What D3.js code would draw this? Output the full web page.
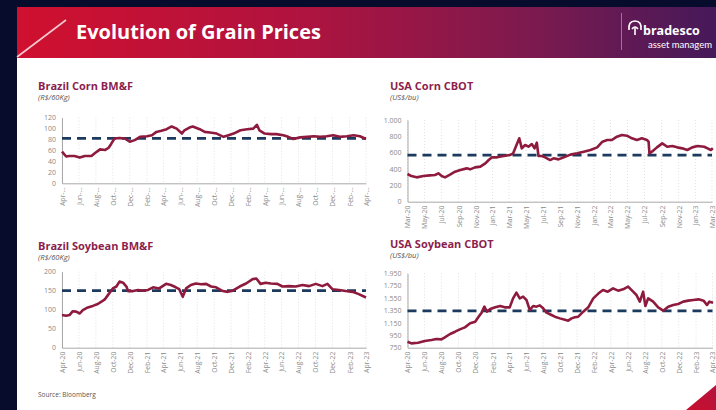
<!DOCTYPE html>
<html><head><meta charset="utf-8">
<script src="https://cdn.jsdelivr.net/npm/d3@7"></script>
<style>
html,body{margin:0;padding:0;background:#070b2c;}
svg{display:block;font-family:"Open Sans",Lato,sans-serif;}
</style></head>
<body>
<svg id="chart" width="716" height="410"></svg>
<script>
// ---------------- DATA ----------------
const brCornDates = ["2020-04-01","2020-04-16","2020-04-28","2020-05-16","2020-06-04","2020-06-22","2020-07-16","2020-07-28","2020-08-16","2020-09-04","2020-09-16","2020-09-25","2020-10-07","2020-10-25","2020-11-13","2020-12-01","2020-12-19","2021-01-07","2021-02-01","2021-02-19","2021-03-07","2021-03-25","2021-04-13","2021-05-01","2021-05-19","2021-06-07","2021-06-16","2021-07-04","2021-07-16","2021-08-10","2021-08-28","2021-09-16","2021-10-10","2021-11-04","2021-11-22","2021-12-10","2022-01-04","2022-01-28","2022-02-19","2022-03-04","2022-03-13","2022-04-01","2022-04-25","2022-05-13","2022-06-07","2022-06-25","2022-07-13","2022-08-07","2022-09-01","2022-09-25","2022-10-19","2022-11-10","2022-12-04","2022-12-28","2023-01-22","2023-02-16","2023-03-10","2023-04-01"];
const brCornValues = [58,49,50,50,47,50,50,55,62,61,65,72,82,83,82,76,79,85,86,88,94,96,99,104,100,91,97,102,104,99,94,93,91,85,88,91,97,99,100,107,97,91,90,90,88,85,81,84,85,86,85,86,88,85,86,88,86,81];
const brCornAvg = 82;
const brCornTickLabels = ["Apr-…","Jun-…","Aug-…","Oct-…","Dec-…","Feb-…","Apr-…","Jun-…","Aug-…","Oct-…","Dec-…","Feb-…","Apr-…","Jun-…","Aug-…","Oct-…","Dec-…","Feb-…","Apr-…"];
const brCornYTicks = [0,20,40,60,80,100,120];

const usCornDates = ["2020-03-01","2020-03-15","2020-04-03","2020-04-27","2020-05-20","2020-06-08","2020-06-20","2020-07-02","2020-07-14","2020-08-01","2020-08-19","2020-09-07","2020-09-30","2020-10-12","2020-10-30","2020-11-18","2020-12-06","2020-12-18","2020-12-30","2021-01-17","2021-02-10","2021-03-04","2021-03-16","2021-03-28","2021-04-07","2021-04-16","2021-04-28","2021-05-10","2021-05-22","2021-06-01","2021-06-09","2021-06-15","2021-06-27","2021-07-09","2021-07-27","2021-08-08","2021-08-26","2021-09-14","2021-10-08","2021-11-01","2021-11-25","2021-12-19","2022-01-12","2022-01-31","2022-02-17","2022-03-06","2022-03-24","2022-04-11","2022-04-29","2022-05-17","2022-06-04","2022-06-22","2022-07-10","2022-07-16","2022-07-19","2022-07-28","2022-08-15","2022-09-03","2022-09-21","2022-10-09","2022-10-27","2022-11-14","2022-12-02","2022-12-20","2023-01-08","2023-02-01","2023-02-13","2023-02-25","2023-03-04"];
const usCornValues = [339,314,298,314,322,327,347,314,298,331,367,388,408,396,420,429,469,510,543,543,559,571,592,694,776,653,694,673,706,653,722,559,559,543,510,531,518,543,576,592,612,633,665,735,755,755,796,816,808,776,755,776,755,735,592,612,665,714,673,682,665,653,633,665,682,673,653,633,653];
const usCornAvg = 570;
const usCornTickLabels = ["Mar-20","May-20","Jul-20","Sep-20","Nov-20","Jan-21","Mar-21","May-21","Jul-21","Sep-21","Nov-21","Jan-22","Mar-22","May-22","Jul-22","Sep-22","Nov-22","Jan-23","Mar-23"];
const usCornYTicks = [0,200,400,600,800,1000];

const brSoyDates = ["2020-04-01","2020-04-16","2020-04-28","2020-05-10","2020-05-22","2020-06-04","2020-06-15","2020-07-03","2020-07-21","2020-08-08","2020-08-21","2020-09-02","2020-09-14","2020-10-01","2020-10-14","2020-10-25","2020-11-07","2020-11-19","2020-11-25","2020-12-13","2020-12-31","2021-01-18","2021-02-05","2021-02-23","2021-03-17","2021-04-11","2021-04-28","2021-05-16","2021-05-28","2021-06-10","2021-06-22","2021-07-09","2021-07-27","2021-08-15","2021-09-02","2021-09-20","2021-10-08","2021-11-01","2021-11-19","2021-12-07","2022-01-01","2022-01-24","2022-02-18","2022-03-02","2022-03-17","2022-04-05","2022-04-23","2022-05-17","2022-06-04","2022-06-28","2022-07-22","2022-08-15","2022-09-08","2022-10-02","2022-10-26","2022-11-13","2022-12-01","2022-12-25","2023-01-18","2023-02-12","2023-03-06","2023-04-01"];
const brSoyValues = [86,84,86,96,95,90,99,106,110,115,121,127,139,156,161,174,171,161,149,149,152,150,152,159,156,168,165,159,154,134,156,165,169,167,168,161,159,149,147,150,161,169,181,182,168,171,169,168,161,162,161,165,162,168,162,168,154,152,149,147,141,132];
const brSoyAvg = 150;
const brSoyTickLabels = ["Apr-20","Jun-20","Aug-20","Oct-20","Dec-20","Feb-21","Apr-21","Jun-21","Aug-21","Oct-21","Dec-21","Feb-22","Apr-22","Jun-22","Aug-22","Oct-22","Dec-22","Feb-23","Apr-23"];
const brSoyYTicks = [0,50,100,150,200];

const usSoyDates = ["2020-04-01","2020-04-15","2020-05-09","2020-06-02","2020-06-26","2020-07-14","2020-08-01","2020-08-13","2020-09-01","2020-09-19","2020-10-06","2020-10-24","2020-11-12","2020-11-30","2020-12-11","2020-12-23","2021-01-02","2021-01-11","2021-01-23","2021-02-10","2021-02-28","2021-03-16","2021-04-03","2021-04-15","2021-04-27","2021-05-09","2021-05-21","2021-06-02","2021-06-14","2021-06-26","2021-07-08","2021-07-20","2021-08-01","2021-08-13","2021-08-31","2021-09-12","2021-09-30","2021-10-12","2021-10-30","2021-11-11","2021-11-23","2021-12-05","2021-12-23","2022-01-10","2022-01-28","2022-02-16","2022-03-04","2022-03-21","2022-04-09","2022-04-27","2022-05-15","2022-06-02","2022-06-20","2022-07-02","2022-07-14","2022-07-26","2022-08-03","2022-08-13","2022-08-31","2022-09-18","2022-10-06","2022-10-24","2022-11-11","2022-11-29","2022-12-17","2023-01-04","2023-01-22","2023-02-10","2023-02-28","2023-03-12","2023-03-21","2023-04-03"];
const usSoyValues = [847,820,831,858,874,890,885,917,971,1008,1046,1078,1143,1170,1240,1315,1412,1331,1374,1401,1423,1401,1401,1546,1638,1546,1573,1520,1358,1423,1412,1433,1385,1315,1277,1250,1223,1207,1186,1223,1240,1250,1331,1401,1546,1627,1681,1654,1708,1670,1692,1735,1654,1600,1493,1654,1423,1546,1493,1401,1347,1412,1439,1455,1493,1509,1520,1530,1509,1439,1493,1476];
const usSoyAvg = 1345;
const usSoyTickLabels = ["Apr-20","Jun-20","Aug-20","Oct-20","Dec-20","Feb-21","Apr-21","Jun-21","Aug-21","Oct-21","Dec-21","Feb-22","Apr-22","Jun-22","Aug-22","Oct-22","Dec-22","Feb-23","Apr-23"];
const usSoyYTicks = [750,950,1150,1350,1550,1750,1950];

const headerTitle = "Evolution of Grain Prices";
const sourceText = "Source: Bloomberg";

// ---------------- DRAW ----------------
const svg = d3.select("#chart");
const parse = d3.timeParse("%Y-%m-%d");
const fmtDot = v => d3.format(",")(v).replace(/,/g, ".");

// panel
svg.append("rect").attr("x",17).attr("y",7).attr("width",699).attr("height",403).attr("fill","#ffffff");
const defs = svg.append("defs");
const grad = defs.append("linearGradient").attr("id","hdr").attr("x1","0").attr("x2","1").attr("y1","0").attr("y2","0");
grad.append("stop").attr("offset","0%").attr("stop-color","#d0102f");
grad.append("stop").attr("offset","40%").attr("stop-color","#b0133f");
grad.append("stop").attr("offset","75%").attr("stop-color","#7a1a4f");
grad.append("stop").attr("offset","100%").attr("stop-color","#45195a");
svg.append("rect").attr("x",17).attr("y",7).attr("width",699).attr("height",51).attr("fill","url(#hdr)");
svg.append("line").attr("x1",17).attr("y1",57).attr("x2",66).attr("y2",20)
  .attr("stroke","#f3c9cf").attr("stroke-width",1.6);
svg.append("text").attr("x",76).attr("y",39).attr("fill","#fff")
  .attr("font-size",20).attr("font-weight",700).text(headerTitle);
svg.append("line").attr("x1",621.5).attr("x2",621.5).attr("y1",13).attr("y2",50)
  .attr("stroke","#b08aa6").attr("stroke-width",0.8);
// logo icon
const lg = svg.append("g").attr("fill","none").attr("stroke","#fff").attr("stroke-width",1.6);
lg.append("path").attr("d","M629,30 Q628,21 635,21 Q642,21 641,30");
lg.append("path").attr("d","M632,29 Q635,25 638,29");
lg.append("line").attr("x1",635).attr("x2",635).attr("y1",28).attr("y2",35);
svg.append("text").attr("x",643).attr("y",35).attr("fill","#fff").attr("font-size",12.5)
  .attr("font-weight",700).text("bradesco");
svg.append("text").attr("x",648).attr("y",47.5).attr("fill","#fff").attr("font-size",9.5)
  .attr("font-family","Lato,sans-serif").text("asset managem");
// bottom-right triangle
const tg = defs.append("linearGradient").attr("id","tri").attr("x1","0").attr("x2","1").attr("y1","1").attr("y2","0");
tg.append("stop").attr("offset","0%").attr("stop-color","#c8102e");
tg.append("stop").attr("offset","100%").attr("stop-color","#b4123d");
svg.append("path").attr("d","M686,410 L716,385 L716,410 Z").attr("fill","url(#tri)");

function drawChart(cfg) {
  const g = svg.append("g");
  g.append("text").attr("x",cfg.tx).attr("y",cfg.ty).attr("fill","#8c1f4e")
    .attr("font-size",11).attr("font-weight",700).text(cfg.title);
  g.append("text").attr("x",cfg.tx).attr("y",cfg.ty+10).attr("fill","#555")
    .attr("font-size",7.5).attr("font-style","italic").text(cfg.unit);

  const dates = cfg.dates.map(parse);
  const s = parse(cfg.start), e = parse(cfg.end);
  const x = d3.scaleTime().domain([s, e]).range([cfg.x0, cfg.x1]);
  const y = d3.scaleLinear().domain(cfg.yDomain).range([cfg.yBottom, cfg.yTop]);
  const tickDates = d3.timeMonth.range(s, d3.timeDay.offset(e,1), 2);

  g.selectAll(".grid").data(tickDates).join("line")
    .attr("x1",d=>x(d)).attr("x2",d=>x(d)).attr("y1",cfg.yTop).attr("y2",cfg.yBottom)
    .attr("stroke","#d6d6d6").attr("stroke-width",0.7).attr("stroke-dasharray","1,2");

  const ya = g.append("g").attr("transform",`translate(${cfg.x0},0)`)
    .call(d3.axisLeft(y).tickValues(cfg.yTicks).tickSize(0).tickPadding(6).tickFormat(fmtDot));
  ya.select(".domain").attr("stroke","#a8a8a8").attr("stroke-width",1);
  ya.selectAll("text").attr("fill","#8a8a8a").attr("font-size",7).attr("font-family","'Open Sans',sans-serif");

  const xa = g.append("g").attr("transform",`translate(0,${cfg.yBottom})`)
    .call(d3.axisBottom(x).tickValues(tickDates).tickSize(0).tickFormat((d,i)=>cfg.tickLabels[i]));
  xa.select(".domain").attr("stroke","#a8a8a8").attr("stroke-width",1);
  xa.selectAll("text").attr("fill","#8a8a8a").attr("font-size",6.8).attr("font-family","'Open Sans',sans-serif")
    .attr("text-anchor","end").attr("transform","rotate(-90)")
    .attr("x",-4).attr("y",0).attr("dy","0.35em");

  g.append("line").attr("x1",cfg.x0).attr("x2",cfg.x1).attr("y1",y(cfg.avg)).attr("y2",y(cfg.avg))
    .attr("stroke","#1b3a5e").attr("stroke-width",2.8).attr("stroke-dasharray","9,6");

  const line = d3.line().x((d,i)=>x(dates[i])).y(d=>y(d)).curve(d3.curveLinear);
  g.append("path").datum(cfg.values).attr("d",line).attr("fill","none")
    .attr("stroke","#8e1b3d").attr("stroke-width",2.6).attr("stroke-linejoin","round");
}

drawChart({title:"Brazil Corn BM&F", unit:"(R$/60Kg)", tx:38, ty:90,
  dates:brCornDates, values:brCornValues, avg:brCornAvg, tickLabels:brCornTickLabels, yTicks:brCornYTicks,
  start:"2020-04-01", end:"2023-04-01", x0:62, x1:366, yDomain:[0,120], yTop:117.7, yBottom:183.3});
drawChart({title:"USA Corn CBOT", unit:"(US$/bu)", tx:390, ty:90,
  dates:usCornDates, values:usCornValues, avg:usCornAvg, tickLabels:usCornTickLabels, yTicks:usCornYTicks,
  start:"2020-03-01", end:"2023-03-01", x0:407.5, x1:712, yDomain:[0,1000], yTop:120, yBottom:201.7});
drawChart({title:"Brazil Soybean BM&F", unit:"(R$/60Kg)", tx:38, ty:250,
  dates:brSoyDates, values:brSoyValues, avg:brSoyAvg, tickLabels:brSoyTickLabels, yTicks:brSoyYTicks,
  start:"2020-04-01", end:"2023-04-01", x0:62, x1:366, yDomain:[0,200], yTop:271.7, yBottom:347.7});
drawChart({title:"USA Soybean CBOT", unit:"(US$/bu)", tx:390, ty:248,
  dates:usSoyDates, values:usSoyValues, avg:usSoyAvg, tickLabels:usSoyTickLabels, yTicks:usSoyYTicks,
  start:"2020-04-01", end:"2023-04-01", x0:407.5, x1:712.5, yDomain:[750,1950], yTop:273.3, yBottom:347.7});

svg.append("text").attr("x",38).attr("y",397).attr("fill","#555").attr("font-size",6.5).text(sourceText);
</script>
</body></html>
